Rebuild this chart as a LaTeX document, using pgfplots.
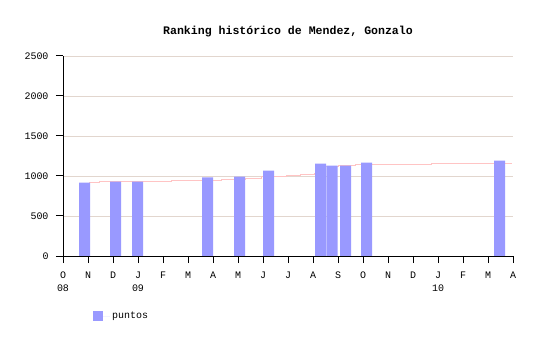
\documentclass[border=0pt]{standalone}
\usepackage{fontspec}
\setmainfont{Liberation Mono}
\usepackage{pgfplots}
\pgfplotsset{compat=1.18}
\definecolor{barc}{HTML}{9999FF}
\definecolor{gridc}{HTML}{E2D6CE}
\definecolor{linec}{HTML}{FFC4C4}
\begin{document}
\begin{tikzpicture}
\useasboundingbox (0,0) rectangle (540bp,340bp);
\begin{axis}[
  at={(63bp,84bp)}, anchor=south west,
  scale only axis, width=450bp, height=200bp,
  xmin=0, xmax=18, ymin=0, ymax=2500,
  axis x line*=bottom, axis y line*=left,
  axis line style={-, black, line width=1bp},
  ytick={0,500,1000,1500,2000,2500},
  yticklabels={0,500,1000,1500,2000,2500},
  xtick={0,1,...,18},
  xticklabels={O\\08,N,D,J\\09,F,M,A,M,J,J,A,S,O,N,D,J\\10,F,M,A},
  xticklabel style={align=center, anchor=north, font=\fontsize{10}{13.5}\selectfont, yshift=-5bp},
  yticklabel style={font=\fontsize{10}{11}\selectfont, xshift=-4bp},
  tick align=outside, major tick length=7bp,
  tick style={black, line width=1bp},
  ymajorgrids, grid style={gridc, line width=0.9bp},
  title={\bfseries Ranking histórico de Mendez, Gonzalo},
  title style={font=\fontsize{11.6}{13}\selectfont, at={(0.5,1)}, anchor=center, yshift=18bp},
  legend style={at={(rel axis cs:0,0)}, anchor=north west, xshift=30bp, yshift=-54bp,
    draw=none, fill=none, font=\fontsize{10}{11}\selectfont, inner sep=0pt},
  legend cell align=left,
]
\addplot[const plot, linec, line width=1bp, forget plot] coordinates {
 (1.05,914) (1.46,926) (4.35,938) (6.34,951) (7.3,968) (7.92,992) (8.95,1005)
 (9.5,1017) (10.05,1030) (10.5,1117) (11.02,1125) (11.7,1138) (14.73,1150) (17.97,1150)
};
\addplot[ybar, bar width=11bp, fill=barc, draw=none,
  legend image code/.code={\fill[barc] (0bp,-5bp) rectangle (10bp,5bp); \path (0bp,0bp) -- (17bp,0bp);}]
 coordinates {
 (0.86,918) (2.1,930) (2.98,930) (5.78,984) (7.06,993) (8.22,1067)
 (10.3,1154) (10.76,1130) (11.3,1130) (12.14,1167) (17.46,1192)
};
\addlegendentry{puntos}
\end{axis}
\end{tikzpicture}
\end{document}
